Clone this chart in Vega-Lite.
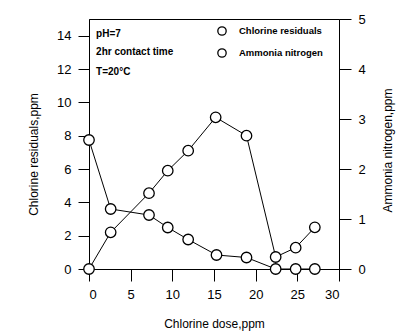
{
  "$schema": "https://vega.github.io/schema/vega-lite/v6.json",
  "width": 250,
  "height": 250,
  "autosize": "none",
  "padding": {"left": 89, "top": 19, "right": 59, "bottom": 62},
  "config": {
    "font": "Liberation Sans",
    "view": {"stroke": "black", "strokeWidth": 1},
    "axis": {
      "grid": false,
      "domainColor": "black",
      "tickColor": "black",
      "labelColor": "black",
      "titleColor": "black",
      "labelFont": "Liberation Sans",
      "titleFont": "Liberation Sans",
      "labelFontSize": 13,
      "titleFontSize": 12,
      "titleFontWeight": "normal",
      "tickSize": 11,
      "labelPadding": 7
    }
  },
  "data": {
    "values": [
      {"series": "Chlorine residuals", "dose": 0, "value": 0},
      {"series": "Chlorine residuals", "dose": 2.6, "value": 2.2},
      {"series": "Chlorine residuals", "dose": 7.2, "value": 4.55},
      {"series": "Chlorine residuals", "dose": 9.45, "value": 5.9},
      {"series": "Chlorine residuals", "dose": 11.9, "value": 7.1},
      {"series": "Chlorine residuals", "dose": 15.2, "value": 9.1},
      {"series": "Chlorine residuals", "dose": 18.9, "value": 8.0},
      {"series": "Chlorine residuals", "dose": 22.4, "value": 0.72},
      {"series": "Chlorine residuals", "dose": 24.8, "value": 1.28},
      {"series": "Chlorine residuals", "dose": 27.1, "value": 2.5},
      {"series": "Ammonia nitrogen", "dose": 0, "value": 2.58},
      {"series": "Ammonia nitrogen", "dose": 2.6, "value": 1.2},
      {"series": "Ammonia nitrogen", "dose": 7.2, "value": 1.08},
      {"series": "Ammonia nitrogen", "dose": 9.45, "value": 0.83},
      {"series": "Ammonia nitrogen", "dose": 11.9, "value": 0.59},
      {"series": "Ammonia nitrogen", "dose": 15.3, "value": 0.28},
      {"series": "Ammonia nitrogen", "dose": 18.9, "value": 0.23},
      {"series": "Ammonia nitrogen", "dose": 22.4, "value": 0},
      {"series": "Ammonia nitrogen", "dose": 24.8, "value": 0},
      {"series": "Ammonia nitrogen", "dose": 27.1, "value": 0}
    ]
  },
  "layer": [
    {
      "encoding": {
        "x": {"field": "dose", "type": "quantitative", "scale": {"domain": [0, 30]},
          "axis": {"values": [0, 5, 10, 15, 20, 25, 30], "title": "Chlorine dose,ppm", "titlePadding": 17, "tickSize": 12}},
        "y": {"field": "value", "type": "quantitative", "scale": {"domain": [0, 15]},
          "axis": {"orient": "left", "values": [0, 2, 4, 6, 8, 10, 12, 14], "title": "Chlorine residuals,ppm", "titlePadding": 16, "titleY": 135}}
      },
      "layer": [
        {
          "transform": [{"filter": "datum.series === 'Chlorine residuals'"}],
          "mark": {"type": "line", "color": "black", "strokeWidth": 1}
        },
        {
          "transform": [{"filter": "datum.series === 'Chlorine residuals'"}],
          "mark": {"type": "point", "shape": "circle", "fill": "white", "fillOpacity": 1, "strokeWidth": 1.3, "size": 110},
          "encoding": {
            "stroke": {"field": "series", "type": "nominal",
              "scale": {"domain": ["Chlorine residuals", "Ammonia nitrogen"], "range": ["black", "black"]},
              "legend": {"orient": "none", "legendX": 128, "legendY": 7, "title": null, "labelFontSize": 9.5, "labelFontWeight": "bold", "symbolSize": 70, "symbolStrokeWidth": 1.3, "symbolFillColor": "white", "rowPadding": 8, "labelOffset": 12, "labelColor": "black"}}
          }
        },
        {
          "data": {"values": [
            {"label": "pH=7", "x": 0.85, "y": 14.1},
            {"label": "2hr contact time", "x": 0.85, "y": 13.0},
            {"label": "T=20°C", "x": 0.85, "y": 11.8}
          ]},
          "mark": {"type": "text", "align": "left", "baseline": "middle", "fontSize": 10, "fontWeight": "bold", "color": "black"},
          "encoding": {
            "x": {"field": "x", "type": "quantitative"},
            "y": {"field": "y", "type": "quantitative"},
            "text": {"field": "label"}
          }
        }
      ]
    },
    {
      "transform": [{"filter": "datum.series === 'Ammonia nitrogen'"}],
      "encoding": {
        "x": {"field": "dose", "type": "quantitative", "scale": {"domain": [0, 30]}},
        "y": {"field": "value", "type": "quantitative", "scale": {"domain": [0, 5]},
          "axis": {"orient": "right", "values": [0, 1, 2, 3, 4, 5], "title": "Ammonia nitrogen,ppm", "titleAngle": -90, "titleBaseline": "top", "titlePadding": 17, "tickSize": 12, "titleY": 131}}
      },
      "layer": [
        {"mark": {"type": "line", "color": "black", "strokeWidth": 1}},
        {
          "mark": {"type": "point", "shape": "circle", "fill": "white", "fillOpacity": 1, "strokeWidth": 1.3, "size": 110},
          "encoding": {"stroke": {"field": "series", "type": "nominal"}}
        }
      ]
    }
  ],
  "resolve": {"scale": {"y": "independent"}}
}
